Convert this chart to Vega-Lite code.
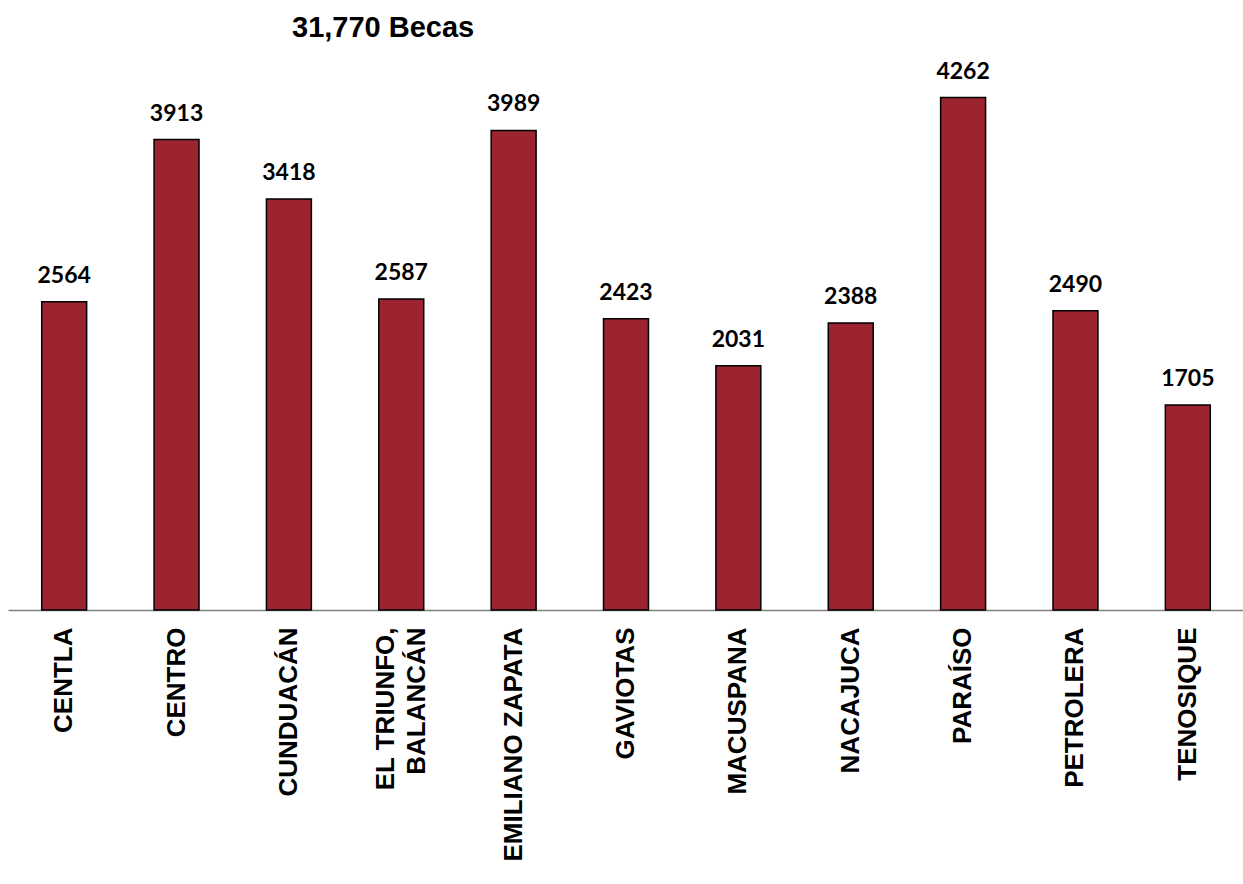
{
  "$schema": "https://vega.github.io/schema/vega-lite/v6.json",
  "autosize": {"type": "none"},
  "padding": {"left": 8, "top": 69, "right": 0, "bottom": 274},
  "width": 1236,
  "height": 541,
  "background": "white",
  "title": {
    "text": "31,770 Becas",
    "anchor": "start",
    "frame": "group",
    "dx": 284,
    "dy": 33,
    "offset": 28,
    "font": "Liberation Sans",
    "fontSize": 29,
    "fontWeight": "bold",
    "color": "#000000",
    "baseline": "alphabetic"
  },
  "data": {
    "values": [
      {"municipio": "CENTLA", "becas": 2564},
      {"municipio": "CENTRO", "becas": 3913},
      {"municipio": "CUNDUACÁN", "becas": 3418},
      {"municipio": "EL TRIUNFO,\nBALANCÁN", "becas": 2587},
      {"municipio": "EMILIANO ZAPATA", "becas": 3989},
      {"municipio": "GAVIOTAS", "becas": 2423},
      {"municipio": "MACUSPANA", "becas": 2031},
      {"municipio": "NACAJUCA", "becas": 2388},
      {"municipio": "PARAÍSO", "becas": 4262},
      {"municipio": "PETROLERA", "becas": 2490},
      {"municipio": "TENOSIQUE", "becas": 1705}
    ]
  },
  "encoding": {
    "x": {
      "field": "municipio",
      "type": "nominal",
      "sort": null,
      "scale": {"paddingInner": 0.6, "paddingOuter": 0.3},
      "axis": {
        "title": null,
        "labelAngle": -90,
        "labelAlign": "right",
        "labelBaseline": "middle",
        "labelFont": "Liberation Sans",
        "labelFontSize": 26,
        "labelFontWeight": "bold",
        "labelColor": "#000000",
        "labelPadding": 17,
        "labelLineHeight": 31,
        "labelExpr": "split(datum.value, '\\n')",
        "labelOffset": {"condition": {"test": "indexof(datum.value, '\\n') >= 0", "value": -15}, "value": 0},
        "ticks": false,
        "domainColor": "#808080",
        "domainWidth": 1.5,
        "domainOpacity": 1,
        "labelOverlap": false,
        "labelLimit": 400
      }
    },
    "y": {
      "field": "becas",
      "type": "quantitative",
      "scale": {"domain": [0, 4500], "nice": false},
      "axis": null
    }
  },
  "layer": [
    {
      "mark": {"type": "bar", "color": "#9B2430", "stroke": "#000000", "strokeWidth": 1.5}
    },
    {
      "mark": {
        "type": "text",
        "baseline": "alphabetic",
        "dy": -19,
        "font": "Lato",
        "fontSize": 23,
        "fontWeight": "bold",
        "color": "#000000"
      },
      "encoding": {"text": {"field": "becas", "type": "quantitative", "format": "d"}}
    }
  ],
  "config": {"view": {"stroke": null}}
}
